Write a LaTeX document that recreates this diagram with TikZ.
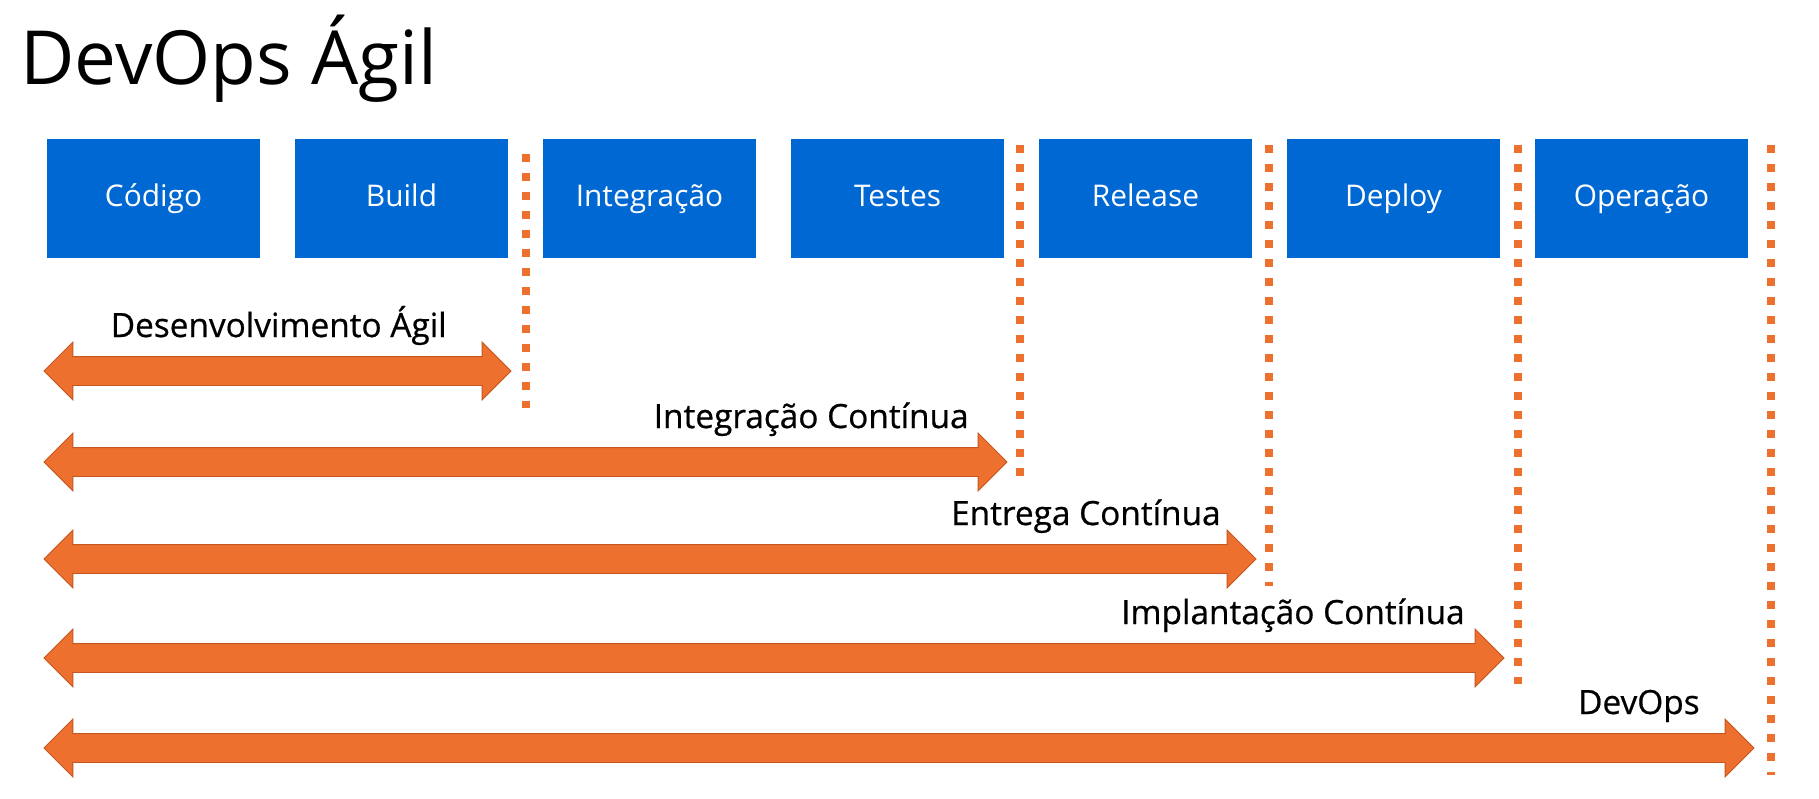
\documentclass[tikz,border=0pt]{standalone}
\usepackage{fontspec}
\setmainfont{Open Sans}
\newfontfamily\spanfont[FakeBold=0.6]{Open Sans}
\usetikzlibrary{positioning,shapes.arrows}

\definecolor{stageblue}{RGB}{0,104,210}
\definecolor{spanorange}{RGB}{238,112,46}
\definecolor{spanedge}{RGB}{196,86,32}

\tikzstyle{stage} = [fill=stageblue,text=white,minimum width=4.26cm,minimum height=2.38cm,
                     inner sep=0pt,text height=10pt,text depth=0.6pt,
                     font=\fontsize{17}{20}\selectfont]
\tikzstyle{span} = [double arrow,fill=spanorange,draw=spanedge,line width=0.5pt,
                    inner xsep=0pt,inner ysep=0.28cm,minimum width=0pt,
                    double arrow head extend=0.29cm,double arrow tip angle=90]
\tikzstyle{span label} = [anchor=base east,inner sep=0pt,font=\spanfont\fontsize{19}{23}\selectfont]
\tikzstyle{gate} = [draw=spanorange,line width=0.16cm,dash pattern=on 0.16cm off 0.22cm]

\begin{document}
\begin{tikzpicture}[x=0.02cm,y=-0.02cm]
\path[use as bounding box,fill=white] (0,0) rectangle (1819,798);

\node[anchor=base west,inner sep=0pt,font=\fontsize{42.5}{50}\selectfont] (title) at (20,84) {DevOps Ágil};

% pipeline stages
\foreach \i/\name/\txt in {0/cod/Código, 1/build/Build, 2/integ/Integração, 3/testes/Testes,
                           4/release/Release, 5/deploy/Deploy, 6/oper/Operação}{
  \node[stage] (\name) at ({153.5+248*\i},198.5) {\txt};
}

% stage borders
\foreach \name/\gx/\top/\bot in {g1/526/154/408, g2/1020/145/485, g3/1269/145/586,
                                 g4/1518/145/684, g5/1771/145/775}{
  \coordinate (\name-top) at (\gx,\top);
  \coordinate (\name-bot) at (\gx,\bot);
  \draw[gate] (\name-top) -- (\name-bot);
}

% practices
\foreach \name/\row/\tipx/\lblx/\txt in {agil/371/511/447/Desenvolvimento Ágil,
                                         ci/462/1007/969/Integração Contínua,
                                         cd/559/1256/1221/Entrega Contínua,
                                         cdep/658/1504/1465/Implantação Contínua,
                                         devops/748/1754/1700/DevOps}{
  \coordinate (\name-s) at (44,\row);
  \coordinate (\name-e) at (\tipx,\row);
  \path (\name-s) -- (\name-e)
    node[midway,span,minimum height={(\tipx-44)*0.02cm}] (\name) {};
  \node[span label] (\name-lbl) at (\lblx,{\row-34}) {\txt};
}
\end{tikzpicture}
\end{document}
